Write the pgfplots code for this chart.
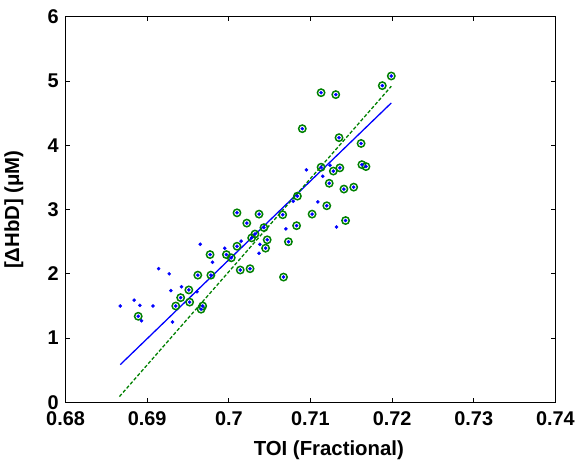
\documentclass[border=0pt]{standalone}
\usepackage{pgfplots}
\pgfplotsset{compat=1.18}
\usepackage{fontspec}
\setmainfont{Liberation Sans}
\definecolor{cgreen}{rgb}{0,0.5,0}
\begin{document}
\begin{tikzpicture}
\begin{axis}[
  scale only axis, width=493pt, height=388pt,
  xmin=0.68, xmax=0.74, ymin=0, ymax=6,
  xtick={0.68,0.69,0.70,0.71,0.72,0.73,0.74},
  xticklabels={0.68,0.69,0.7,0.71,0.72,0.73,0.74},
  ytick={0,1,2,3,4,5,6},
  yticklabels={0,1,2,3,4,5,6},
  tick align=inside, major tick length=4pt,
  tick style={black, line width=0.8pt},
  axis line style={black, line width=0.9pt},
  ticklabel style={font=\fontsize{20}{23}\selectfont\bfseries},
  x tick label style={yshift=-5.5pt},
  y tick label style={xshift=-3.5pt},
  /pgf/number format/assume math mode=true,
  xlabel={TOI (Fractional)},
  ylabel={[ΔHbD] (μM)},
  label style={font=\fontsize{20.5}{24}\selectfont\bfseries},
  xlabel style={at={(axis description cs:0.5375,-0.139)}, anchor=base},
  ylabel style={at={(axis description cs:-0.095,0.5)}, anchor=base},
  clip=false,
]
\path (rel axis cs:-0.13387,-0.16237) rectangle (rel axis cs:1.03854,1.04381);
% fits
\addplot[blue, line width=1.3pt] coordinates {(0.6867,0.587) (0.7199,4.66)};
\addplot[cgreen, line width=1.3pt, dash pattern=on 3.5pt off 2pt] coordinates {(0.6866,0.09) (0.7199,4.92)};
% circled points
\addplot[only marks, mark=o, mark size=3.7pt, mark options={cgreen, line width=1.5pt}] coordinates {
(0.6889,1.34) (0.6935,1.50) (0.6941,1.63) (0.6951,1.75) (0.6952,1.56)
(0.6962,1.98) (0.6968,1.50) (0.6966,1.45) (0.6977,2.30) (0.6978,1.98)
(0.6997,2.30) (0.7003,2.25) (0.7010,2.43) (0.7014,2.06) (0.7026,2.08)
(0.7028,2.56) (0.7032,2.62) (0.7010,2.95) (0.7022,2.79) (0.7037,2.93)
(0.7043,2.72) (0.7047,2.53) (0.7045,2.40) (0.7066,2.92) (0.7073,2.50)
(0.7067,1.95) (0.7083,2.75) (0.7084,3.21) (0.7102,2.93) (0.7113,3.66)
(0.7120,3.06) (0.7123,3.41) (0.7128,3.60) (0.7136,3.65) (0.7143,2.83)
(0.7141,3.32) (0.7153,3.35) (0.7199,5.08) (0.7188,4.93) (0.7113,4.82)
(0.7131,4.79) (0.7090,4.26) (0.7135,4.12) (0.7162,4.03) (0.7163,3.70)
(0.7168,3.67)
};
% all points
\addplot[only marks, mark=*, mark size=1.6pt, mark options={blue, draw=blue, fill=blue}] coordinates {
(0.6867,1.50) (0.6884,1.59) (0.6891,1.51) (0.6889,1.34) (0.6893,1.27)
(0.6907,1.50) (0.6914,2.08) (0.6927,2.00) (0.6929,1.74) (0.6931,1.25)
(0.6935,1.50) (0.6941,1.63) (0.6942,1.80) (0.6951,1.75) (0.6952,1.56)
(0.6961,1.72) (0.6962,1.98) (0.6965,2.46) (0.6968,1.50) (0.6966,1.45)
(0.6977,2.30) (0.6980,2.18) (0.6978,1.98) (0.6995,2.40) (0.6997,2.30)
(0.7003,2.25) (0.7010,2.43) (0.7015,2.51) (0.7014,2.06) (0.7026,2.08)
(0.7028,2.56) (0.7032,2.62) (0.7010,2.95) (0.7022,2.79) (0.7037,2.93)
(0.7038,2.46) (0.7037,2.32) (0.7043,2.72) (0.7047,2.53) (0.7045,2.40)
(0.7066,2.92) (0.7070,2.70) (0.7073,2.50) (0.7067,1.95) (0.7083,2.75)
(0.7079,3.13) (0.7084,3.21) (0.7095,3.62) (0.7102,2.93) (0.7109,3.12)
(0.7113,3.66) (0.7115,3.52) (0.7124,3.69) (0.7120,3.06) (0.7123,3.41)
(0.7128,3.60) (0.7136,3.65) (0.7132,2.73) (0.7143,2.83) (0.7141,3.32)
(0.7153,3.35) (0.7199,5.08) (0.7188,4.93) (0.7113,4.82) (0.7131,4.79)
(0.7090,4.26) (0.7135,4.12) (0.7162,4.03) (0.7163,3.70) (0.7168,3.67)
};
\end{axis}
\end{tikzpicture}
\end{document}
